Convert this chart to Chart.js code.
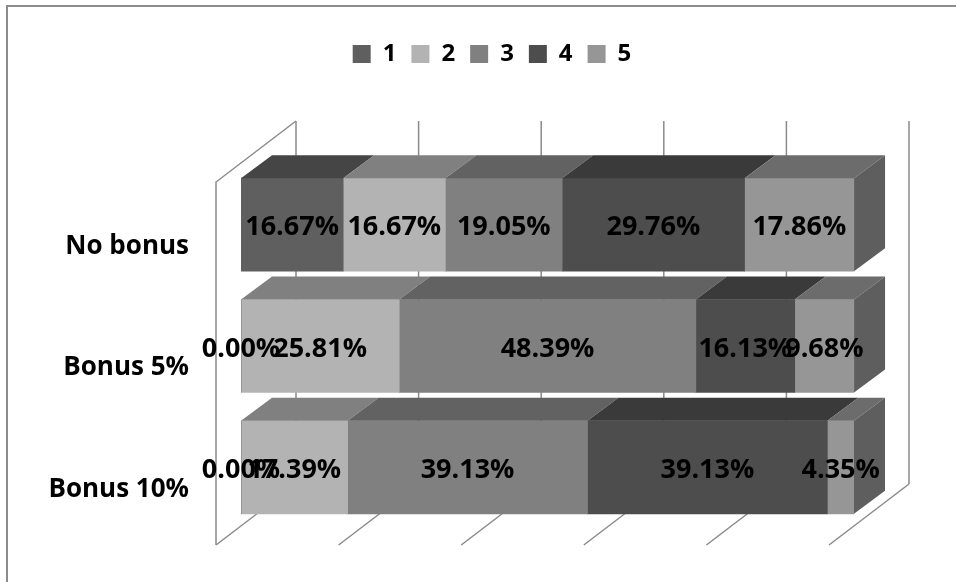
<!DOCTYPE html>
<html>
<head>
<meta charset="utf-8">
<script src="https://cdn.jsdelivr.net/npm/chart.js@4"></script>
<style>
  html, body { margin: 0; padding: 0; background: #fff; }
  #wrap { width: 956px; height: 582px; position: relative; }
</style>
</head>
<body>
<div id="wrap"><canvas id="chart"></canvas></div>
<script>
// categories (top to bottom) and share of answers per rating
const categories = ['No bonus', 'Bonus 5%', 'Bonus 10%'];
const seriesNames = ['1', '2', '3', '4', '5'];
const rating1 = [16.67, 0.00, 0.00];
const rating2 = [16.67, 25.81, 17.39];
const rating3 = [19.05, 48.39, 39.13];
const rating4 = [29.76, 16.13, 39.13];
const rating5 = [17.86, 9.68, 4.35];
const gridTicks = [0, 20, 40, 60, 80, 100];

// front / top face shades for each series
const frontColors = ['#5f5f5f', '#b3b3b3', '#808080', '#4d4d4d', '#969696'];
const topColors   = ['#454545', '#808080', '#626262', '#3a3a3a', '#6c6c6c'];
const sideColor = '#5e5e5e';

const FONT = '"Open Sans", "Liberation Sans", sans-serif';

/* ─────────────────────────────────────────────
   3D look: walls, top/side faces, value labels
───────────────────────────────────────────── */

const BAR_DX = 31, BAR_DY = -23;     // bar depth
const WALL_DX = 80, WALL_DY = -61;   // whole box depth
const WALL_SHIFT = -25;              // wall front plane vs bar front plane

const frame = {
  id: 'frame',
  beforeDraw(chart) {
    const ctx = chart.ctx;
    ctx.save();
    ctx.strokeStyle = '#8c8c8c';
    ctx.lineWidth = 2;
    ctx.beginPath();
    ctx.moveTo(7, 582);
    ctx.lineTo(7, 6);
    ctx.lineTo(956, 6);
    ctx.stroke();
    ctx.restore();
  }
};

const walls = {
  id: 'walls',
  beforeDatasetsDraw(chart) {
    const ctx = chart.ctx;
    const xs = chart.scales.x;
    const area = chart.chartArea;
    const frontTop = area.top + 18;
    const frontBottom = area.bottom + 17;

    ctx.save();
    ctx.strokeStyle = '#8a8a8a';
    ctx.lineWidth = 1.5;

    gridTicks.forEach(v => {
      const fx = xs.getPixelForValue(v) + WALL_SHIFT;
      const bx = fx + WALL_DX;
      // back wall line
      ctx.beginPath();
      ctx.moveTo(bx, frontTop + WALL_DY);
      ctx.lineTo(bx, frontBottom + WALL_DY);
      ctx.stroke();
      // floor line
      ctx.beginPath();
      ctx.moveTo(fx, frontBottom);
      ctx.lineTo(bx, frontBottom + WALL_DY);
      ctx.stroke();
    });

    // left side wall
    const lx = xs.getPixelForValue(0) + WALL_SHIFT;
    ctx.beginPath();
    ctx.moveTo(lx, frontBottom);
    ctx.lineTo(lx, frontTop);
    ctx.lineTo(lx + WALL_DX, frontTop + WALL_DY);
    ctx.stroke();
    ctx.restore();
  },

  afterDatasetsDraw(chart) {
    const ctx = chart.ctx;
    const n = chart.data.datasets.length;
    ctx.save();

    for (let j = 0; j < categories.length; j++) {
      let lastVisible = null;
      for (let i = 0; i < n; i++) {
        const bar = chart.getDatasetMeta(i).data[j];
        const p = bar.getProps(['x', 'y', 'base', 'height'], true);
        const x0 = Math.min(p.base, p.x), x1 = Math.max(p.base, p.x);
        const top = p.y - p.height / 2;
        if (x1 - x0 < 0.5) continue;
        ctx.fillStyle = topColors[i];
        ctx.beginPath();
        ctx.moveTo(x0, top);
        ctx.lineTo(x1, top);
        ctx.lineTo(x1 + BAR_DX, top + BAR_DY);
        ctx.lineTo(x0 + BAR_DX, top + BAR_DY);
        ctx.closePath();
        ctx.fill();
        lastVisible = { x1, top, bottom: p.y + p.height / 2 };
      }
      if (lastVisible) {
        const s = lastVisible;
        ctx.fillStyle = sideColor;
        ctx.beginPath();
        ctx.moveTo(s.x1, s.top);
        ctx.lineTo(s.x1 + BAR_DX, s.top + BAR_DY);
        ctx.lineTo(s.x1 + BAR_DX, s.bottom + BAR_DY);
        ctx.lineTo(s.x1, s.bottom);
        ctx.closePath();
        ctx.fill();
      }
    }

    // value labels on the front faces
    ctx.font = 'bold 27px ' + FONT;
    ctx.fillStyle = '#000';
    ctx.textAlign = 'center';
    ctx.textBaseline = 'middle';
    for (let i = 0; i < n; i++) {
      const ds = chart.data.datasets[i];
      chart.getDatasetMeta(i).data.forEach((bar, j) => {
        const p = bar.getProps(['x', 'y', 'base'], true);
        ctx.fillText(ds.data[j].toFixed(2) + '%', (p.x + p.base) / 2, p.y + 3);
      });
    }
    ctx.restore();
  }
};

/* ─────────────────────────────────────────────
   Chart
───────────────────────────────────────────── */

const seriesValues = [rating1, rating2, rating3, rating4, rating5];

const blankAxis = (pos, fit) => ({
  position: pos,
  grid: { display: false },
  border: { display: false },
  ticks: { display: false },
  afterFit: fit
});

new Chart(document.getElementById('chart'), {
  type: 'bar',
  data: {
    labels: categories,
    datasets: seriesNames.map((name, i) => ({
      label: name,
      data: seriesValues[i],
      backgroundColor: frontColors[i],
      borderWidth: 0,
      barThickness: 93
    }))
  },
  options: {
    indexAxis: 'y',
    responsive: true,
    maintainAspectRatio: false,
    animation: false,
    layout: { padding: { top: 27, left: 28, right: 0, bottom: 54 } },
    plugins: {
      tooltip: { enabled: false },
      legend: {
        position: 'top',
        labels: {
          boxWidth: 18,
          boxHeight: 18,
          padding: 15,
          color: '#000',
          font: { family: FONT, size: 24, weight: 'bold' }
        }
      }
    },
    scales: {
      x: {
        position: 'top',
        stacked: true,
        min: 0,
        max: 100,
        grid: { display: false },
        border: { display: false },
        ticks: { display: false },
        afterFit(scale) { scale.height = 88; }
      },
      y: {
        stacked: true,
        weight: 1,
        grid: { display: false },
        border: { display: false },
        ticks: {
          color: '#000',
          padding: 3,
          labelOffset: 22,
          font: { family: FONT, size: 26, weight: 'bold' }
        },
        afterFit(scale) { scale.width = 172; }
      },
      yGap: Object.assign(blankAxis('left', s => { s.width = 41; }), { weight: 0 }),
      yRight: blankAxis('right', s => { s.width = 102; })
    }
  },
  plugins: [frame, walls]
});
</script>
</body>
</html>
